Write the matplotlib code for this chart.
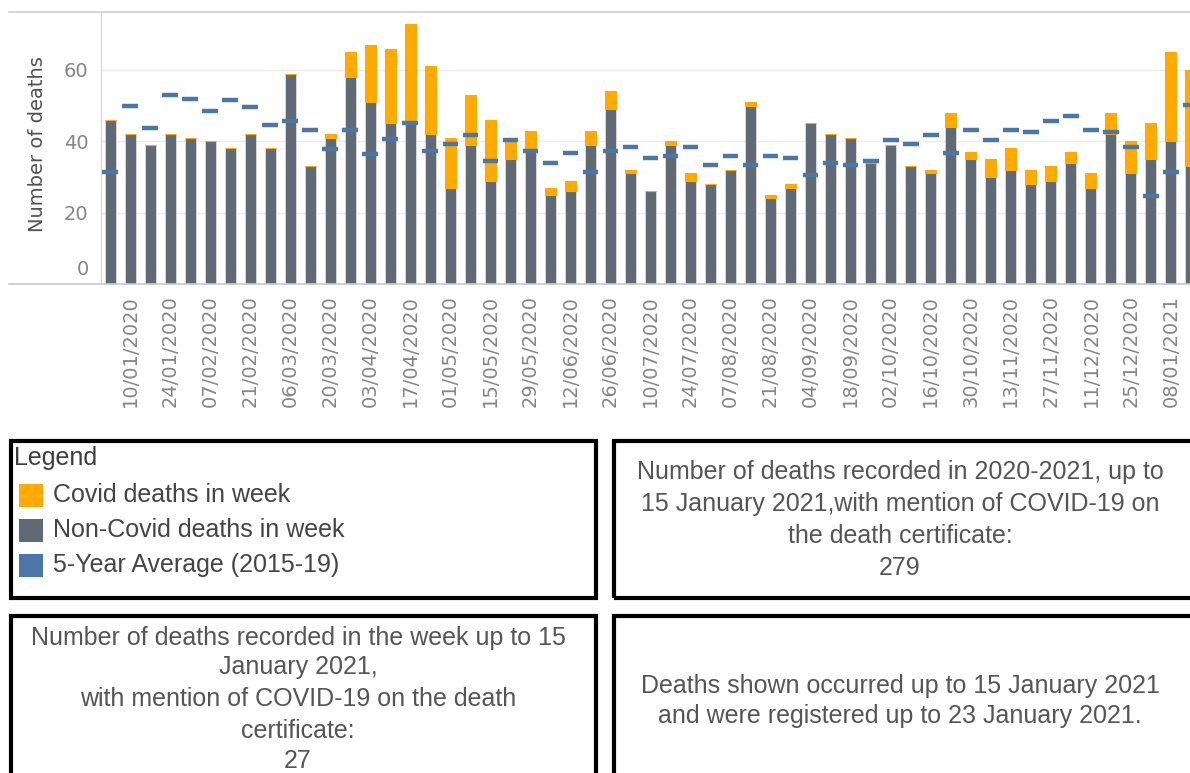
import numpy as np
import matplotlib
matplotlib.use("Agg")
import matplotlib.pyplot as plt
from matplotlib.patches import Rectangle
from matplotlib.lines import Line2D
from matplotlib.transforms import ScaledTranslation

# weekly deaths, week ending 03/01/2020 ... 15/01/2021
non_covid = [46, 42, 39, 42, 41, 40, 38, 42, 38, 59, 33, 41, 58, 51, 45, 46,
             42, 27, 39, 29, 35, 37, 25, 26, 39, 49, 31, 26, 39, 29, 28, 32,
             50, 24, 27, 45, 42, 41, 34, 39, 33, 31, 44, 35, 30, 32, 28, 29,
             34, 27, 42, 31, 35, 40, 33]
covid = [0, 0, 0, 0, 0, 0, 0, 0, 0, 0, 0, 1, 7, 16, 21, 27,
         19, 14, 14, 17, 6, 6, 2, 3, 4, 5, 1, 0, 1, 2, 0, 0,
         1, 1, 1, 0, 0, 0, 0, 0, 0, 1, 4, 2, 5, 6, 4, 4,
         3, 4, 6, 9, 10, 25, 27]
avg_5yr = [31.4, 50.0, 43.7, 53.0, 52.0, 48.5, 51.5, 49.5, 44.7, 45.6, 43.2,
           37.8, 43.2, 36.4, 40.7, 45.2, 37.3, 39.2, 41.7, 34.4, 40.3, 37.3,
           33.9, 36.8, 31.4, 37.3, 38.3, 35.3, 35.9, 38.3, 33.4, 35.9, 33.4,
           35.9, 35.3, 30.5, 33.8, 33.4, 34.4, 40.3, 39.2, 41.7, 36.8, 43.2,
           40.3, 43.2, 42.7, 45.7, 47.1, 43.2, 42.7, 38.3, 24.6, 31.4, 50.1]
tick_labels = ["10/01/2020", "24/01/2020", "07/02/2020", "21/02/2020",
               "06/03/2020", "20/03/2020", "03/04/2020", "17/04/2020",
               "01/05/2020", "15/05/2020", "29/05/2020", "12/06/2020",
               "26/06/2020", "10/07/2020", "24/07/2020", "07/08/2020",
               "21/08/2020", "04/09/2020", "18/09/2020", "02/10/2020",
               "16/10/2020", "30/10/2020", "13/11/2020", "27/11/2020",
               "11/12/2020", "25/12/2020", "08/01/2021"]
legend_items = ["Covid deaths in week", "Non-Covid deaths in week",
                "5-Year Average (2015-19)"]
total_covid = 279
week_covid = 27

ORANGE = "#ffaa00"
GREY = "#5f6a74"
BLUE = "#4a76a8"

W, H = 1190, 773
fig = plt.figure(figsize=(W / 100, H / 100), dpi=100)


def fx(px):
    return px / W


def fy(py):
    return 1 - py / H


ax = fig.add_axes([fx(101), fy(284), (W - 101) / W, 272 / H])
x = np.arange(len(non_covid))
ax.bar(x, non_covid, width=0.55, color=GREY, edgecolor="#e6e6e6", linewidth=0.5, zorder=2)
ax.bar(x, covid, bottom=non_covid, width=0.55, color=ORANGE, edgecolor=ORANGE,
       linewidth=0.8, zorder=2)
ax.hlines(avg_5yr, x - 0.39, x + 0.39, colors=BLUE, linewidth=3.2, zorder=3)

ax.set_xlim(-0.45, 53.95)
ax.set_ylim(0, 76.25)
ax.set_xticks(x[1::2])
ax.set_xticklabels(tick_labels, rotation=90, va="top", ha="center")
ax.set_yticks([0, 20, 40, 60])
ax.tick_params(axis="x", length=0, pad=8, labelsize=14, labelcolor="#858585")
ax.tick_params(axis="y", length=0, pad=9, labelsize=14, labelcolor="#858585")
zero_lab = ax.get_yticklabels()[0]
zero_lab.set_va("bottom")
zero_lab.set_transform(zero_lab.get_transform() + ScaledTranslation(0, 0.05, fig.dpi_scale_trans))

ax.yaxis.grid(True, color="#ececec", linewidth=1)
ax.set_axisbelow(True)
for s in ["top", "right", "bottom"]:
    ax.spines[s].set_visible(False)
ax.spines["left"].set_color("#d4d4d4")

fig.add_artist(Line2D([fx(9), 1], [fy(12), fy(12)], color="#d0d0d0", lw=1.2))
fig.add_artist(Line2D([fx(9), 1], [fy(284), fy(284)], color="#c8c8c8", lw=1.2))

fig.text(fx(38), fy(144), "Number of deaths", rotation=90, ha="center", va="center",
         fontsize=14, color="#505050")

# boxes below the chart
for (x0, y0, x1, y1) in [(11, 441, 596, 598), (614, 441, 1205, 598),
                         (11, 616, 596, 790), (614, 616, 1205, 790)]:
    fig.add_artist(Rectangle((fx(x0), fy(y1)), (x1 - x0) / W, (y1 - y0) / H,
                             transform=fig.transFigure, fill=False,
                             edgecolor="black", linewidth=3))

box_font = dict(family="Liberation Sans", fontsize=18)
fig.text(fx(14), fy(465), "Legend", ha="left", va="baseline", color="#3c3c3c", **box_font)
for i, (lab, col) in enumerate(zip(legend_items, [ORANGE, GREY, BLUE])):
    top = 484 + 35 * i
    fig.add_artist(Rectangle((fx(19), fy(top + 23)), 24 / W, 23 / H,
                             transform=fig.transFigure, facecolor=col, edgecolor="none"))
    fig.text(fx(53), fy(502 + 35 * i), lab, ha="left", va="baseline",
             color="#444444", **box_font)

lines2 = ["Number of deaths recorded in 2020-2021, up to",
          "15 January 2021,with mention of COVID-19 on",
          "the death certificate:", str(total_covid)]
for i, t in enumerate(lines2):
    fig.text(fx(900), fy(479 + 32 * i), t, ha="center", va="baseline",
             color="#555555", **box_font)

lines3 = ["Number of deaths recorded in the week up to 15", "January 2021,",
          "with mention of COVID-19 on the death", "certificate:", str(week_covid)]
for t, by in zip(lines3, [645, 674, 706, 738, 768]):
    fig.text(fx(298), fy(by), t, ha="center", va="baseline", color="#555555", **box_font)

lines4 = ["Deaths shown occurred up to 15 January 2021",
          "and were registered up to 23 January 2021."]
for t, by in zip(lines4, [693, 723]):
    fig.text(fx(900), fy(by), t, ha="center", va="baseline", color="#555555", **box_font)

fig.savefig("out.png", dpi=100)
